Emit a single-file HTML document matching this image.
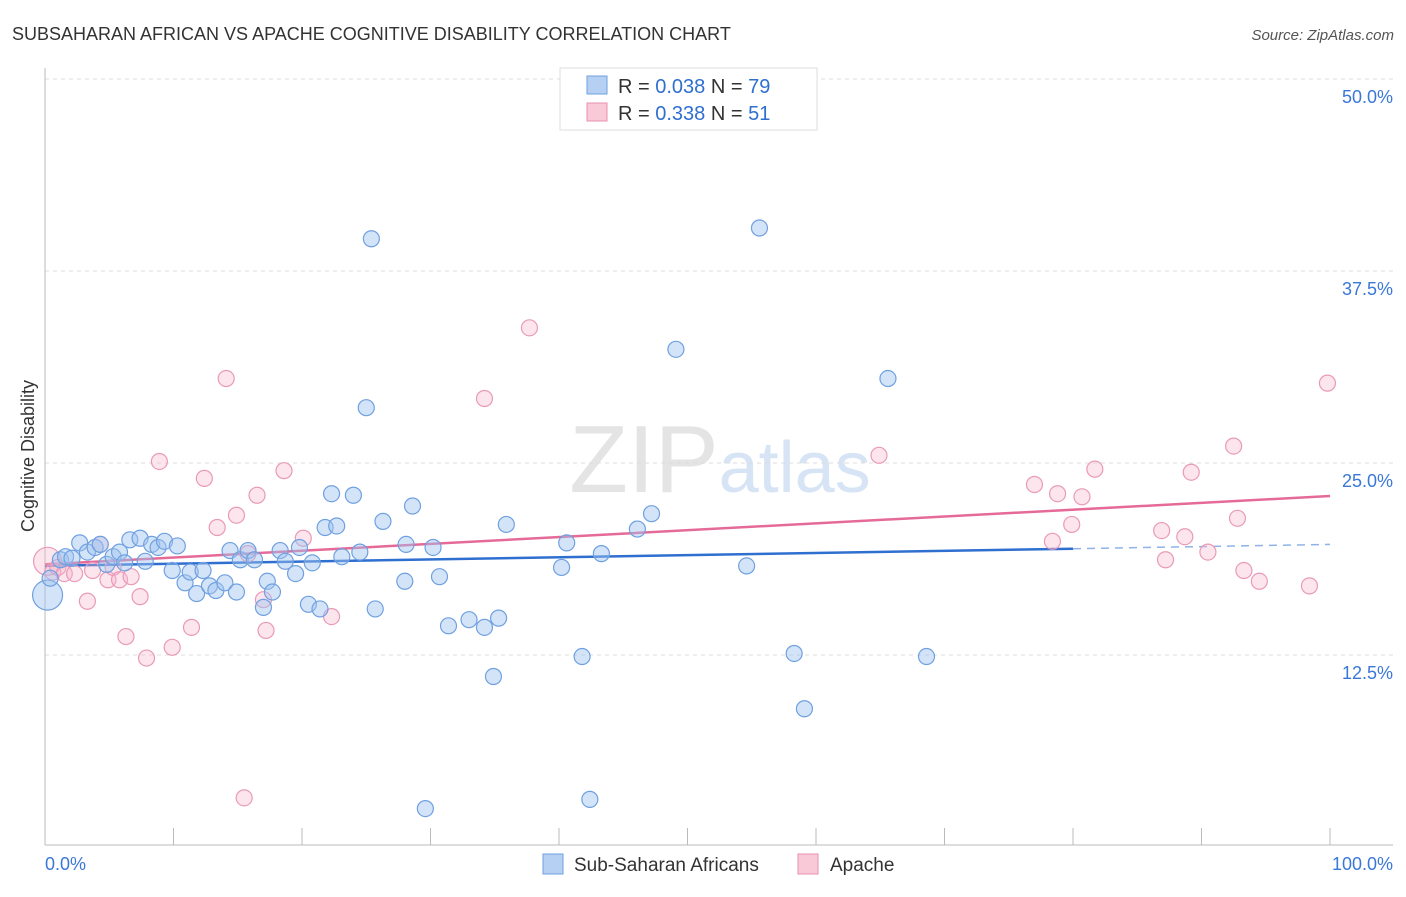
<!DOCTYPE html>
<html><head><meta charset="utf-8"><style>
body{margin:0;background:#fff;font-family:"Liberation Sans",sans-serif;}
svg text{font-family:"Liberation Sans",sans-serif;}
</style></head><body>
<svg id="chart" width="1406" height="892" xmlns="http://www.w3.org/2000/svg">
<text x="12" y="40" font-size="18" fill="#333">SUBSAHARAN AFRICAN VS APACHE COGNITIVE DISABILITY CORRELATION CHART</text>
<text x="1394" y="40" font-size="15" fill="#555" text-anchor="end" font-style="italic">Source: ZipAtlas.com</text>
<text x="720" y="492" font-size="96" fill="#e4e4e4" text-anchor="middle" font-family="Liberation Serif">ZIP<tspan fill="#d6e4f5" font-family="Liberation Sans" font-size="72">atlas</tspan></text>
<g id="grid"></g>
<g id="axes"></g>
<g id="lines"></g>
<g id="pts"></g>
<text transform="translate(34,456) rotate(-90)" font-size="18" fill="#333" text-anchor="middle">Cognitive Disability</text>
<g>
<rect x="560" y="68" width="257" height="62" fill="#fff" stroke="#ddd"/>
<rect x="587" y="76" width="20" height="18" fill="#b5d0f3" stroke="#6fa0e0"/>
<rect x="587" y="103" width="20" height="18" fill="#f9c9d8" stroke="#e890b0"/>
<text x="618" y="93" font-size="20" fill="#333">R = <tspan fill="#2f6fd0">0.038</tspan>   N = <tspan fill="#2f6fd0">79</tspan></text>
<text x="618" y="120" font-size="20" fill="#333">R = <tspan fill="#2f6fd0"> 0.338</tspan>   N = <tspan fill="#2f6fd0"> 51</tspan></text>
</g>
<g>
<rect x="543" y="854" width="20" height="20" fill="#b5d0f3" stroke="#6fa0e0"/>
<text x="574" y="871" font-size="19" fill="#333">Sub-Saharan Africans</text>
<rect x="798" y="854" width="20" height="20" fill="#f9c9d8" stroke="#e890b0"/>
<text x="830" y="871" font-size="19" fill="#333">Apache</text>
</g>
</svg>
<script>
const blueX=[0.2,0.4,1.2,1.6,2.1,2.7,3.3,3.9,4.3,4.8,5.3,5.8,6.2,6.6,7.4,7.8,8.3,8.8,9.3,9.9,10.3,10.9,11.3,11.8,12.3,12.8,13.3,14.0,14.4,14.9,15.2,15.8,16.3,17.0,17.3,17.7,18.3,18.7,19.5,19.8,20.5,20.8,21.4,21.8,22.7,22.3,23.1,24.0,24.5,25.0,25.4,25.7,26.3,28.0,28.1,28.6,29.6,30.2,30.7,31.4,33.0,34.2,34.9,35.3,35.9,40.2,40.6,41.8,42.4,43.3,46.1,47.2,49.1,54.6,55.6,58.3,59.1,65.6,68.6];
const blueY=[16.4,17.5,18.7,18.9,18.8,19.8,19.2,19.5,19.7,18.4,18.9,19.2,18.5,20.0,20.1,18.6,19.7,19.5,19.9,18.0,19.6,17.2,17.9,16.5,18.0,17.0,16.7,17.2,19.3,16.6,18.7,19.3,18.7,15.6,17.3,16.6,19.3,18.6,17.8,19.5,15.8,18.5,15.5,20.8,20.9,23.0,18.9,22.9,19.2,28.6,39.6,15.5,21.2,17.3,19.7,22.2,2.5,19.5,17.6,14.4,14.8,14.3,11.1,14.9,21.0,18.2,19.8,12.4,3.1,19.1,20.7,21.7,32.4,18.3,40.3,12.6,9.0,30.5,12.4];
const pinkX=[0.2,0.6,1.0,1.5,2.3,3.3,3.7,4.3,4.9,5.3,5.8,6.3,6.7,7.4,7.9,8.9,9.9,11.4,12.4,13.4,14.1,14.9,15.5,15.8,16.5,17.0,17.2,18.6,20.1,22.3,34.2,37.7,64.9,77.0,78.4,78.8,79.9,80.7,81.7,86.9,87.2,88.7,89.2,90.5,92.5,92.8,93.3,94.5,98.4,99.8];
const pinkY=[18.6,17.9,18.2,17.8,17.8,16.0,18.0,19.7,17.4,18.2,17.4,13.7,17.6,16.3,12.3,25.1,13.0,14.3,24.0,20.8,30.5,21.6,3.2,19.1,22.9,16.1,14.1,24.5,20.1,15.0,29.2,33.8,25.5,23.6,19.9,23.0,21.0,22.8,24.6,20.6,18.7,20.2,24.4,19.2,26.1,21.4,18.0,17.3,17.0,30.2];
const blueTrend=[18.3,19.7];
const pinkTrend=[18.4,22.85];
const yTicks=[12.5,25.0,37.5,50.0];
const xTickLabels=["0.0%","100.0%"];
const NS="http://www.w3.org/2000/svg";
const sx=v=>45+v*12.85, sy=v=>847-v*15.36;
function mk(parent,tag,attrs){const e=document.createElementNS(NS,tag);for(const k in attrs)e.setAttribute(k,attrs[k]);document.getElementById(parent).appendChild(e);return e;}
yTicks.forEach(t=>{
  const g=mk('grid','line',{x1:45,x2:1393,y1:sy(t),y2:sy(t),stroke:'#ddd','stroke-dasharray':'4,4'});
  
  
  const l=mk('axes','text',{x:1393,y:sy(t)+24,'font-size':18,fill:'#3a78d8','text-anchor':'end'});
  
  
  l.textContent=t.toFixed(1)+'%';
});
const ax=mk('axes','line',{x1:45,x2:45,y1:68,y2:845,stroke:'#bbb'});


const bx=mk('axes','line',{x1:45,x2:1393,y1:845,y2:845,stroke:'#bbb'});


for(let i=1;i<=10;i++){const t=mk('axes','line',{x1:sx(i*10),x2:sx(i*10),y1:828,y2:845,stroke:'#bbb'});
  
  }
const xl0=mk('axes','text',{x:45,y:870,'font-size':18,fill:'#3a78d8'});


xl0.textContent=xTickLabels[0];
const xl1=mk('axes','text',{x:1393,y:870,'font-size':18,fill:'#3a78d8','text-anchor':'end'});


xl1.textContent=xTickLabels[1];
pinkX.forEach((x,i)=>{const c=mk('pts','circle',{cx:sx(x),cy:sy(pinkY[i]),r:i===0?14:8,fill:'rgba(246,180,202,0.35)',stroke:'#e99ab8','stroke-width':1.2});
  
  });
blueX.forEach((x,i)=>{const c=mk('pts','circle',{cx:sx(x),cy:sy(blueY[i]),r:i===0?15:8,fill:'rgba(160,196,240,0.45)',stroke:'#6fa0e0','stroke-width':1.2});
  
  });
const bAt=v=>blueTrend[0]+(blueTrend[1]-blueTrend[0])*v/100;
const b1=mk('lines','line',{x1:sx(0),y1:sy(bAt(0)),x2:sx(80),y2:sy(bAt(80)),stroke:'#2f6fd0','stroke-width':2.5});


const b2=mk('lines','line',{x1:sx(80),y1:sy(bAt(80)),x2:sx(100),y2:sy(bAt(100)),stroke:'#8fb3e6','stroke-width':1.5,'stroke-dasharray':'8,6'});


const p1=mk('lines','line',{x1:sx(0),y1:sy(pinkTrend[0]),x2:sx(100),y2:sy(pinkTrend[1]),stroke:'#e56a98','stroke-width':2.5});


</script>
</body></html>
